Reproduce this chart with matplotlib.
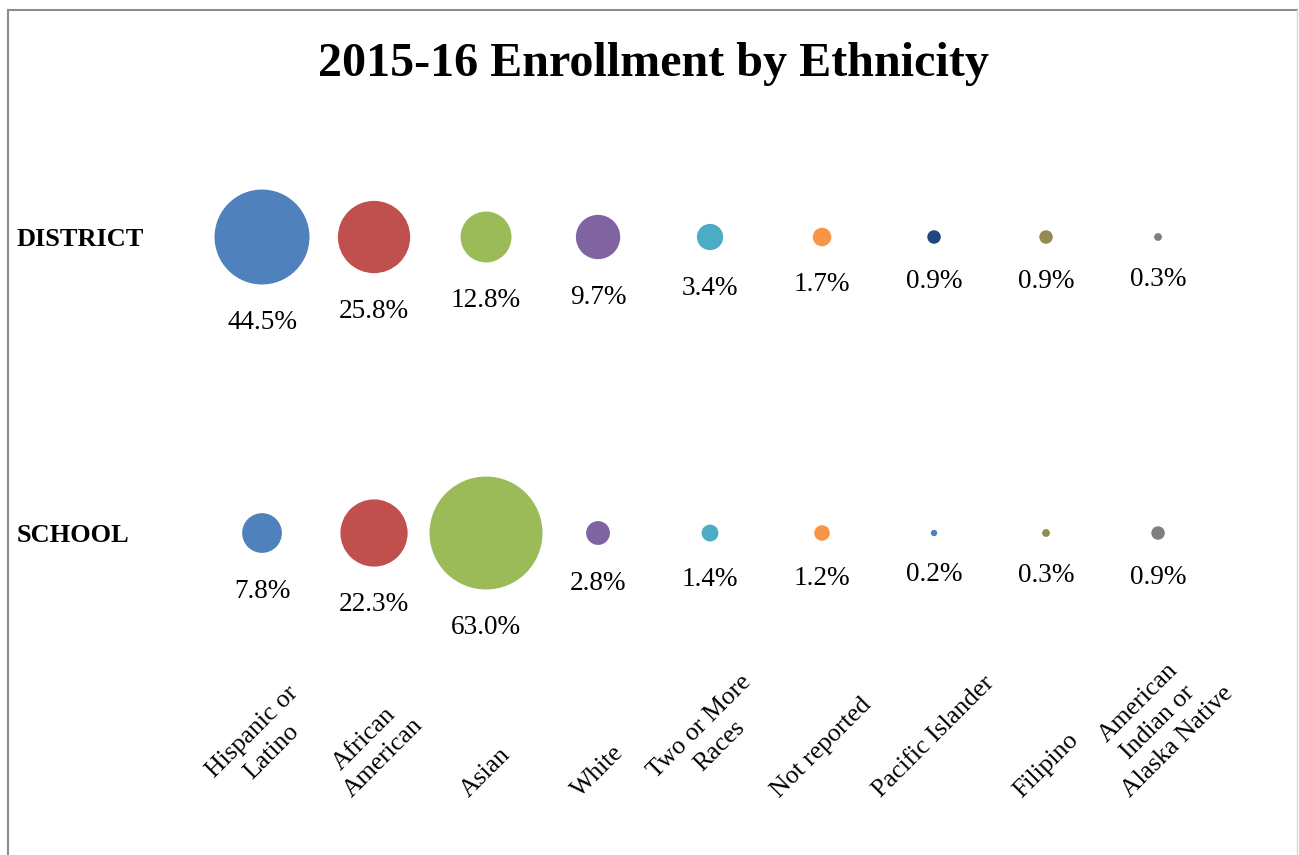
import matplotlib
matplotlib.use("Agg")
import matplotlib.pyplot as plt
import matplotlib.transforms as mtransforms
from matplotlib.lines import Line2D

plt.rcParams['font.family'] = ['Liberation Serif', 'DejaVu Serif']

# data
categories = ["Hispanic or\nLatino", "African\nAmerican", "Asian", "White",
              "Two or More\nRaces", "Not reported", "Pacific Islander",
              "Filipino", "American\nIndian or\nAlaska Native"]
rows = ["SCHOOL", "DISTRICT"]
district = [44.5, 25.8, 12.8, 9.7, 3.4, 1.7, 0.9, 0.9, 0.3]
school = [7.8, 22.3, 63.0, 2.8, 1.4, 1.2, 0.2, 0.3, 0.9]

# colours
district_colors = ["#4F81BD", "#C0504D", "#9BBB59", "#8064A2", "#4BACC6",
                   "#F79646", "#1F497D", "#948A54", "#7F7F7F"]
school_colors = ["#4F81BD", "#C0504D", "#9BBB59", "#8064A2", "#4BACC6",
                 "#F79646", "#4F81BD", "#948A54", "#7F7F7F"]

SIZE_K = 105.0  # marker area (pt^2) per percent


def draw_row(ax, yrow, values, colors):
    xs = list(range(len(values)))
    ax.scatter(xs, [yrow] * len(values), s=[SIZE_K * v for v in values],
               c=colors, linewidths=0, zorder=3)
    for x, v in zip(xs, values):
        r = (SIZE_K * v) ** 0.5 / 2
        ax.annotate(f"{v:.1f}%", (x, yrow), xytext=(0, -(r + 18.5)),
                    textcoords="offset points", ha="center", va="top",
                    fontsize=19.6, color="black")


fig = plt.figure(figsize=(12.99, 8.55), dpi=100)
ax = fig.add_axes([0.1586, 0.2035, 0.776, 0.6924])
ax.set_xlim(-0.5, len(categories) - 0.5)
ax.set_ylim(-0.5, 1.5)
ax.axis("off")

draw_row(ax, 1, district, district_colors)
draw_row(ax, 0, school, school_colors)

# category labels
trans_x = mtransforms.blended_transform_factory(ax.transData, fig.transFigure)
for i, cat in enumerate(categories):
    ax.text(i, 0.062, cat, transform=trans_x, rotation=45, ha="center",
            va="bottom", multialignment="center", fontsize=18.5,
            linespacing=1.35)

# row labels
trans_y = mtransforms.blended_transform_factory(fig.transFigure, ax.transData)
for i, name in enumerate(rows):
    ax.annotate(name, (0.013, i), xycoords=trans_y, xytext=(0, -1.5),
                textcoords="offset points", ha="left", va="center",
                fontsize=19, fontweight="bold")

fig.text(0.503, 0.925, "2015-16 Enrollment by Ethnicity", ha="center",
         va="center", fontsize=34.6, fontweight="bold")

# chart border
top = 1 - 10 / 855
left = 8 / 1299
right = 1297 / 1299
fig.add_artist(Line2D([left, left], [0, top], transform=fig.transFigure,
                      color="#8c8c8c", lw=1.5))
fig.add_artist(Line2D([left, right], [top, top], transform=fig.transFigure,
                      color="#8c8c8c", lw=1.5))
fig.add_artist(Line2D([right, right], [0, top], transform=fig.transFigure,
                      color="#d9d9d9", lw=1.0))

fig.savefig("out.png", dpi=100)
